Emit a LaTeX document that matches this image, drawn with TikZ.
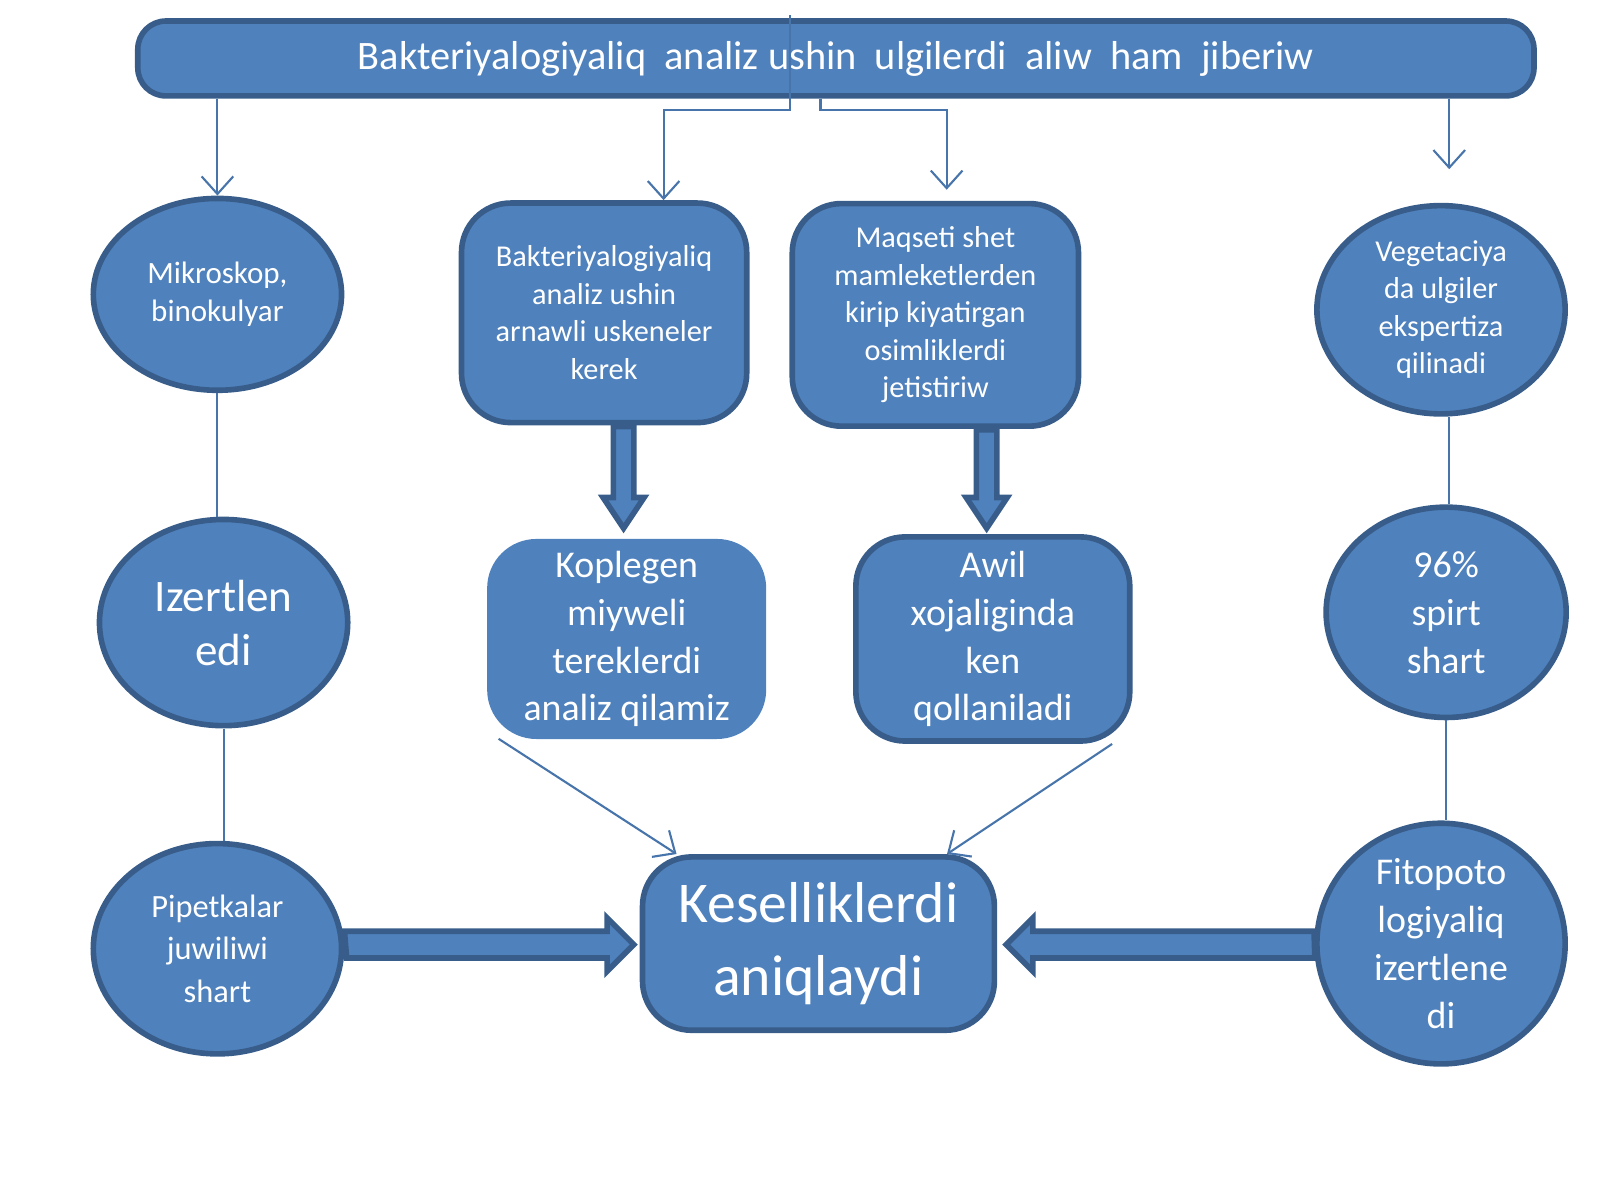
\documentclass[tikz,border=0pt]{standalone}
\usepackage{fontspec}
\setmainfont{Carlito}
\usetikzlibrary{arrows.meta,shapes.geometric,calc}
\definecolor{fillb}{HTML}{4F81BD}
\definecolor{edgeb}{HTML}{385D8A}
\tikzset{
 el/.style={ellipse,fill=fillb,draw=edgeb,line width=1.6pt,text=white,align=center,inner sep=0pt},
 bx/.style={rounded corners=14pt,fill=fillb,draw=edgeb,line width=1.6pt,text=white,align=center,inner sep=2pt},
 thin/.style={draw=fillb!90!black,line width=0.6pt},
 tarr/.style={thin,-{Straight Barb[length=5pt,width=9pt]}},
 barr/.style={fill=fillb,draw=edgeb,line width=1.6pt,line join=miter},
}
\begin{document}
\begin{tikzpicture}[x=0.010256cm,y=-0.010256cm,every node/.append style={scale=1.0256}]
\useasboundingbox (0,0) rectangle (1560,1170);
\node[bx,rounded corners=8pt] (top) at (815,57) [minimum width=13.61cm,minimum height=0.73cm,font=\fontsize{11.2}{13}\selectfont] {Bakteriyalogiyaliq~ analiz ushin~ ulgilerdi~ aliw~ ham~ jiberiw};
\node[el,minimum width=2.42cm,minimum height=1.87cm,font=\fontsize{8.6}{10.6}\selectfont] (e1) at (212,287) {Mikroskop,\\binokulyar};
\node[el,minimum width=2.42cm,minimum height=2.01cm,font=\fontsize{12.5}{15}\selectfont] (e2) at (218,607) {Izertlen\\edi};
\node[el,minimum width=2.42cm,minimum height=2.05cm,font=\fontsize{9}{11.8}\selectfont] (e3) at (212,925) {Pipetkalar\\juwiliwi\\shart};
\node[el,minimum width=2.42cm,minimum height=2.03cm,font=\fontsize{8.4}{10.4}\selectfont] (e4) at (1405,302) {Vegetaciya\\da ulgiler\\ekspertiza\\qilinadi};
\node[el,minimum width=2.34cm,minimum height=2.05cm,font=\fontsize{10.5}{13.3}\selectfont] (e5) at (1410,597) {96\%\\spirt\\shart};
\node[el,minimum width=2.42cm,minimum height=2.05cm,font=\fontsize{10.5}{13.3}\selectfont] (e6) at (1405,920) {Fitopoto\\logiyaliq\\izertlene\\di};
\node[bx,minimum width=2.78cm,minimum height=2.14cm,font=\fontsize{8.4}{10.4}\selectfont] (b1) at (589,305) {Bakteriyalogiyaliq\\analiz ushin\\arnawli uskeneler\\kerek};
\node[bx,minimum width=2.79cm,minimum height=2.17cm,font=\fontsize{8.4}{10.4}\selectfont] (b2) at (912,307) {Maqseti shet\\mamleketlerden\\kirip kiyatirgan\\osimliklerdi\\jetistiriw};
\node[bx,draw=none,minimum width=2.72cm,minimum height=1.95cm,font=\fontsize{10.5}{13.3}\selectfont] (b3) at (611,623) {Koplegen\\miyweli\\tereklerdi\\analiz qilamiz};
\node[bx,minimum width=2.67cm,minimum height=1.99cm,font=\fontsize{10.5}{13.3}\selectfont] (b4) at (968,623) {Awil\\xojaliginda\\ken\\qollaniladi};
\node[bx,minimum width=3.43cm,minimum height=1.69cm,font=\fontsize{16}{20.5}\selectfont] (c) at (798,920) {Keselliklerdi\\aniqlaydi};
% thin connectors
\draw[tarr] (top.south -| e1) -- (e1.north);
\draw[tarr] (top.south -| 1413,0) -- (1413,165);
\coordinate (s1) at (770,15);
\draw[tarr] (s1) -- (770,107) -- (647,107) -- (b1.north -| 647,0);
\draw[tarr] (top.south -| 800,0) -- (800,107) -- (923,107) -- (923,185);
\draw[thin] (e1.south) -- (e2.north -| e1.south);
\draw[thin] (e2.south) -- (e3.north -| e2.south);
\draw[thin] (e4.south -| 1413,0) -- (e5.north -| 1413,0);
\draw[thin] (e5.south) -- (e6.north -| e5.south);
\draw[tarr] ($(b3.south west)+(14,-3)$) -- ($(c.north west)+(36,0)$);
\draw[tarr] ($(b4.south east)+(-20,0)$) -- ($(c.north east)+(-49,0)$);
% block arrows
\draw[barr] (598,416) -- (598,485) -- (588,485) -- (608,515) -- (628,485) -- (618,485) -- (618,416) -- cycle;
\draw[barr] (952,419) -- (952,485) -- (942,485) -- (962,515) -- (982,485) -- (972,485) -- (972,419) -- cycle;
\draw[barr] (e3.east |- 0,908) -- (592,908) -- (592,895) -- (618,921) -- (592,947) -- (592,934) -- (338,934) -- cycle;
\draw[barr] (e6.west |- 0,908) -- (1007,908) -- (1007,895) -- (981,921) -- (1007,947) -- (1007,934) -- (1282,934) -- cycle;
\end{tikzpicture}
\end{document}
